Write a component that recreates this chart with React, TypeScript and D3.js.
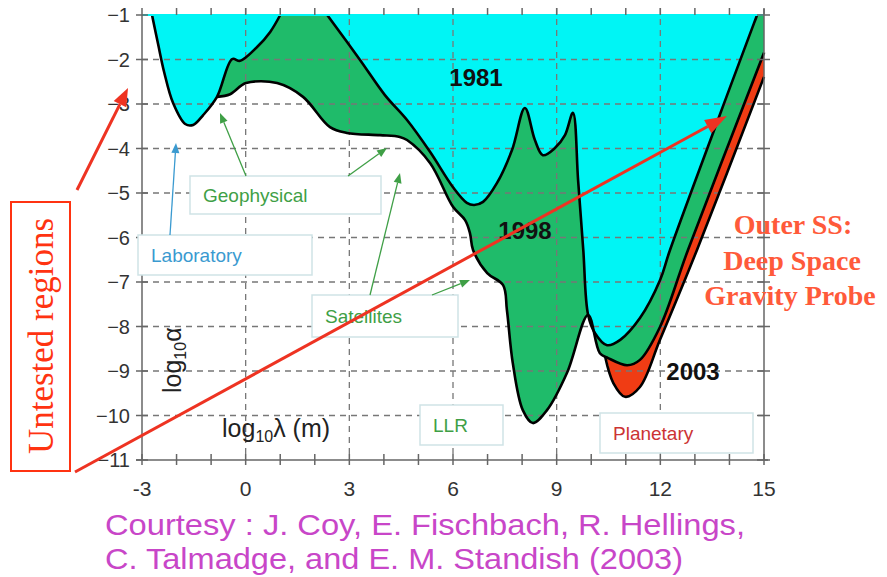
import * as d3 from "d3";

// log10(lambda / m), log10(alpha) pairs
const bound1981Left: [number, number][] = [
  [-2.71, -1.0], [-2.53, -1.67], [-2.36, -2.28], [-2.1, -2.98], [-1.75, -3.45],
  [-1.52, -3.47], [-1.23, -3.25], [-0.83, -2.84], [-0.39, -1.99], [-0.16, -2.03],
  [0.33, -1.72], [0.71, -1.38], [1.0, -1.0],
];
const bound1981Right: [number, number][] = [
  [2.36, -1.0], [3.31, -2.01], [4.03, -2.8], [4.67, -3.36], [5.34, -4.08],
  [6.0, -4.87], [6.4, -5.22], [6.61, -5.27], [6.87, -5.2], [7.27, -4.78],
  [7.71, -4.03], [8.08, -3.09], [8.37, -3.81], [8.6, -4.15], [8.95, -3.99],
  [9.24, -3.7], [9.47, -3.2], [9.62, -4.71], [9.77, -6.28], [9.91, -7.74],
  [10.11, -8.15], [10.46, -8.42], [10.84, -8.3], [11.41, -7.81], [11.99, -6.96],
  [12.28, -6.28], [14.8, -1.0],
];
const bound1998: [number, number][] = [
  [-0.83, -2.84], [-0.45, -2.78], [0.01, -2.53], [0.91, -2.53], [1.66, -2.84],
  [2.44, -3.52], [2.93, -3.65], [3.89, -3.7], [4.46, -3.74], [4.67, -3.81],
  [5.34, -4.33], [6.0, -5.31], [6.35, -5.61], [6.49, -5.9], [6.58, -6.28],
  [6.99, -6.8], [7.45, -7.07], [7.56, -7.63], [7.73, -8.82], [8.02, -9.88],
  [8.31, -10.17], [8.72, -9.88], [9.3, -9.04], [9.91, -7.74], [10.25, -8.6],
  [10.49, -8.71], [11.04, -8.87], [11.41, -8.75], [11.99, -8.01], [12.8, -6.28],
  [15.0, -1.85],
];
const bound2003: [number, number][] = [
  [10.4, -8.67], [10.64, -9.27], [10.98, -9.58], [11.41, -9.36], [11.99, -8.3],
  [13.06, -6.28], [15.0, -2.39],
];

const xTicks = [-3, 0, 3, 6, 9, 12, 15];
const xTickLabels = ["-3", "0", "3", "6", "9", "12", "15"];
const yTicks = [-1, -2, -3, -4, -5, -6, -7, -8, -9, -10, -11];
const yTickLabels = ["\u22121", "\u22122", "\u22123", "\u22124", "\u22125", "\u22126", "\u22127", "\u22128", "\u22129", "\u221210", "\u221211"];
const minorTicks = d3.range(-3, 16, 1);

const CYAN = "#00f5f5";
const GREEN = "#1fbb6a";
const RED = "#f03c14";
const TXT_GREEN = "#3f9f46";

function arrow(x1: number, y1: number, x2: number, y2: number, len: number, w: number, color: string, sw: number) {
  const a = Math.atan2(y2 - y1, x2 - x1);
  const bx = x2 - len * Math.cos(a), by = y2 - len * Math.sin(a);
  const px = -Math.sin(a) * w / 2, py = Math.cos(a) * w / 2;
  return (
    <g>
      <line x1={x1} y1={y1} x2={bx} y2={by} stroke={color} strokeWidth={sw} />
      <polygon points={`${x2},${y2} ${bx + px},${by + py} ${bx - px},${by - py}`} fill={color} />
    </g>
  );
}

export default function App() {
  const x = d3.scaleLinear([-3, 15], [142, 764]);
  const y = d3.scaleLinear([-1, -11], [15, 460]);
  const line = d3.line<[number, number]>(d => x(d[0]), d => y(d[1])).curve(d3.curveCatmullRom.alpha(0.5));

  const closeTop = (pts: [number, number][]) => {
    const first = pts[0], last = pts[pts.length - 1];
    return `${line(pts)}L${x(last[0])},${y(-1)}L${x(first[0])},${y(-1)}Z`;
  };

  const leftShared = bound1981Left.slice(0, 8);
  const split = bound1998.findIndex(d => d[0] === 10.25);
  const redRegion = [...leftShared, ...bound1998.slice(1, split + 1), ...bound2003];
  const greenRegion = [...leftShared, ...bound1998.slice(1)];

  const font = "'Liberation Sans', Arial, sans-serif";
  const serif = "'Liberation Serif', 'Times New Roman', serif";

  const boxes = [
    { x: 190, y: 176, w: 191, h: 38, label: "Geophysical", color: TXT_GREEN },
    { x: 138, y: 235, w: 174, h: 40, label: "Laboratory", color: "#3a9ad0" },
    { x: 312, y: 295, w: 146, h: 42, label: "Satellites", color: TXT_GREEN },
    { x: 420, y: 405, w: 83, h: 40, label: "LLR", color: TXT_GREEN },
    { x: 600, y: 413, w: 153, h: 40, label: "Planetary", color: "#cc3333" },
  ];

  return (
    <svg width={887} height={577} style={{ position: "absolute", left: 0, top: 0, background: "#fff" }} fontFamily={font}>
      {/* exclusion regions */}
      <path d={closeTop(redRegion)} fill={RED} />
      <path d={closeTop(greenRegion)} fill={GREEN} />
      <path d={closeTop(bound1981Left)} fill={CYAN} />
      <path d={closeTop(bound1981Right)} fill={CYAN} />

      {/* grid */}
      <g stroke="#777" strokeWidth={1.3} strokeDasharray="6,5">
        {[0, 3, 6, 9, 12].map(v => (
          <line key={"gx" + v} x1={x(v)} x2={x(v)} y1={y(-1) - 7} y2={y(-11)} />
        ))}
        {yTicks.slice(1, -1).map(v => (
          <line key={"gy" + v} x1={x(-3)} x2={x(15)} y1={y(v)} y2={y(v)} />
        ))}
      </g>

      {/* boundaries */}
      <g fill="none" stroke="#000" strokeWidth={2.6} strokeLinejoin="round">
        <path d={line(bound1981Left) ?? ""} />
        <path d={line(bound1981Right) ?? ""} />
        <path d={line(bound1998) ?? ""} />
        <path d={line(bound2003) ?? ""} />
      </g>

      {/* frame */}
      <line x1={x(-3)} x2={x(15)} y1={y(-1)} y2={y(-1)} stroke={CYAN} strokeWidth={2} />
      <g stroke="#666" strokeWidth={1.5}>
        <line x1={x(-3)} x2={x(-3)} y1={y(-1)} y2={y(-11)} />
        <line x1={x(15)} x2={x(15)} y1={y(-1) - 6} y2={y(-11)} />
        <line x1={x(-3) - 6} x2={x(15) + 4} y1={y(-11)} y2={y(-11)} />
        {minorTicks.map(v => (
          <g key={"mt" + v}>
            <line x1={x(v)} x2={x(v)} y1={y(-11) - 6} y2={y(-11) + 5} />
            <line x1={x(v)} x2={x(v)} y1={y(-1) - 7} y2={y(-1)} />
          </g>
        ))}
        {yTicks.map(v => (
          <g key={"yt" + v}>
            <line x1={x(-3) - 6} x2={x(-3) + 6} y1={y(v)} y2={y(v)} />
            <line x1={x(15) - 7} x2={x(15) + 6} y1={y(v)} y2={y(v)} />
          </g>
        ))}
      </g>
      <g fill="#333" fontSize={20} textAnchor="end">
        {yTicks.map((v, i) => (
          <text key={"yl" + v} x={x(-3) - 12} y={y(v) + 7}>{yTickLabels[i]}</text>
        ))}
      </g>
      <g fill="#333" fontSize={21} textAnchor="middle">
        {xTicks.map((v, i) => (
          <text key={"xl" + v} x={x(v)} y={496}>{xTickLabels[i]}</text>
        ))}
      </g>

      {/* labelled boxes */}
      {boxes.map(b => (
        <g key={b.label}>
          <rect x={b.x} y={b.y} width={b.w} height={b.h} fill="#fff" stroke="#cfe3e6" strokeWidth={1.5} />
          <text x={b.x + 13} y={b.y + b.h / 2 + 7} fontSize={19} fill={b.color}>{b.label}</text>
        </g>
      ))}

      {arrow(170, 235, 176, 143, 10, 8, "#3a9ad0", 1.3)}
      {arrow(246, 176, 220, 113, 10, 8, TXT_GREEN, 1.3)}
      {arrow(348, 176, 387, 148, 10, 8, TXT_GREEN, 1.3)}
      {arrow(370, 295, 400, 173, 10, 8, TXT_GREEN, 1.3)}
      {arrow(432, 295, 470, 280, 10, 8, TXT_GREEN, 1.3)}

      {/* year labels */}
      <g fontSize={24} fontWeight="bold" fill="#111" textAnchor="middle">
        <text x={476} y={86}>1981</text>
        <text x={525} y={239}>1998</text>
        <text x={693} y={380}>2003</text>
      </g>

      {/* axis titles */}
      <text transform="translate(181,393) rotate(-90)" fontSize={25} fill="#222">
        log<tspan fontSize={16} dy={5}>10</tspan><tspan dy={-5}>α</tspan>
      </text>
      <text x={222} y={437} fontSize={25} fill="#222">
        log<tspan fontSize={16} dy={5}>10</tspan><tspan dy={-5}>λ (m)</tspan>
      </text>

      {/* outer SS */}
      <g fontFamily={serif} fontWeight="bold" fontSize={28} fill="#ff5a3a" textAnchor="middle">
        <text x={793} y={234}>Outer SS:</text>
        <text x={792} y={270}>Deep Space</text>
        <text x={790} y={305}>Gravity Probe</text>
      </g>

      {/* untested regions */}
      <rect x={11} y={202} width={59} height={269} fill="none" stroke="#ff3311" strokeWidth={2} />
      <text transform="translate(53,336) rotate(-90)" textAnchor="middle" fontFamily={serif} fontSize={35} fill="#ff3311">
        Untested regions
      </text>
      {arrow(77, 190, 128, 88, 18, 14, "#ee3322", 3)}
      {arrow(75, 472, 727, 116, 22, 15, "#ee3322", 3)}

      {/* credit */}
      <g fontSize={30} fill="#c846c8">
        <text x={105} y={535} textLength={640} lengthAdjust="spacingAndGlyphs">Courtesy : J. Coy, E. Fischbach, R. Hellings,</text>
        <text x={105} y={569} textLength={578} lengthAdjust="spacingAndGlyphs">C. Talmadge, and E. M. Standish (2003)</text>
      </g>
    </svg>
  );
}
